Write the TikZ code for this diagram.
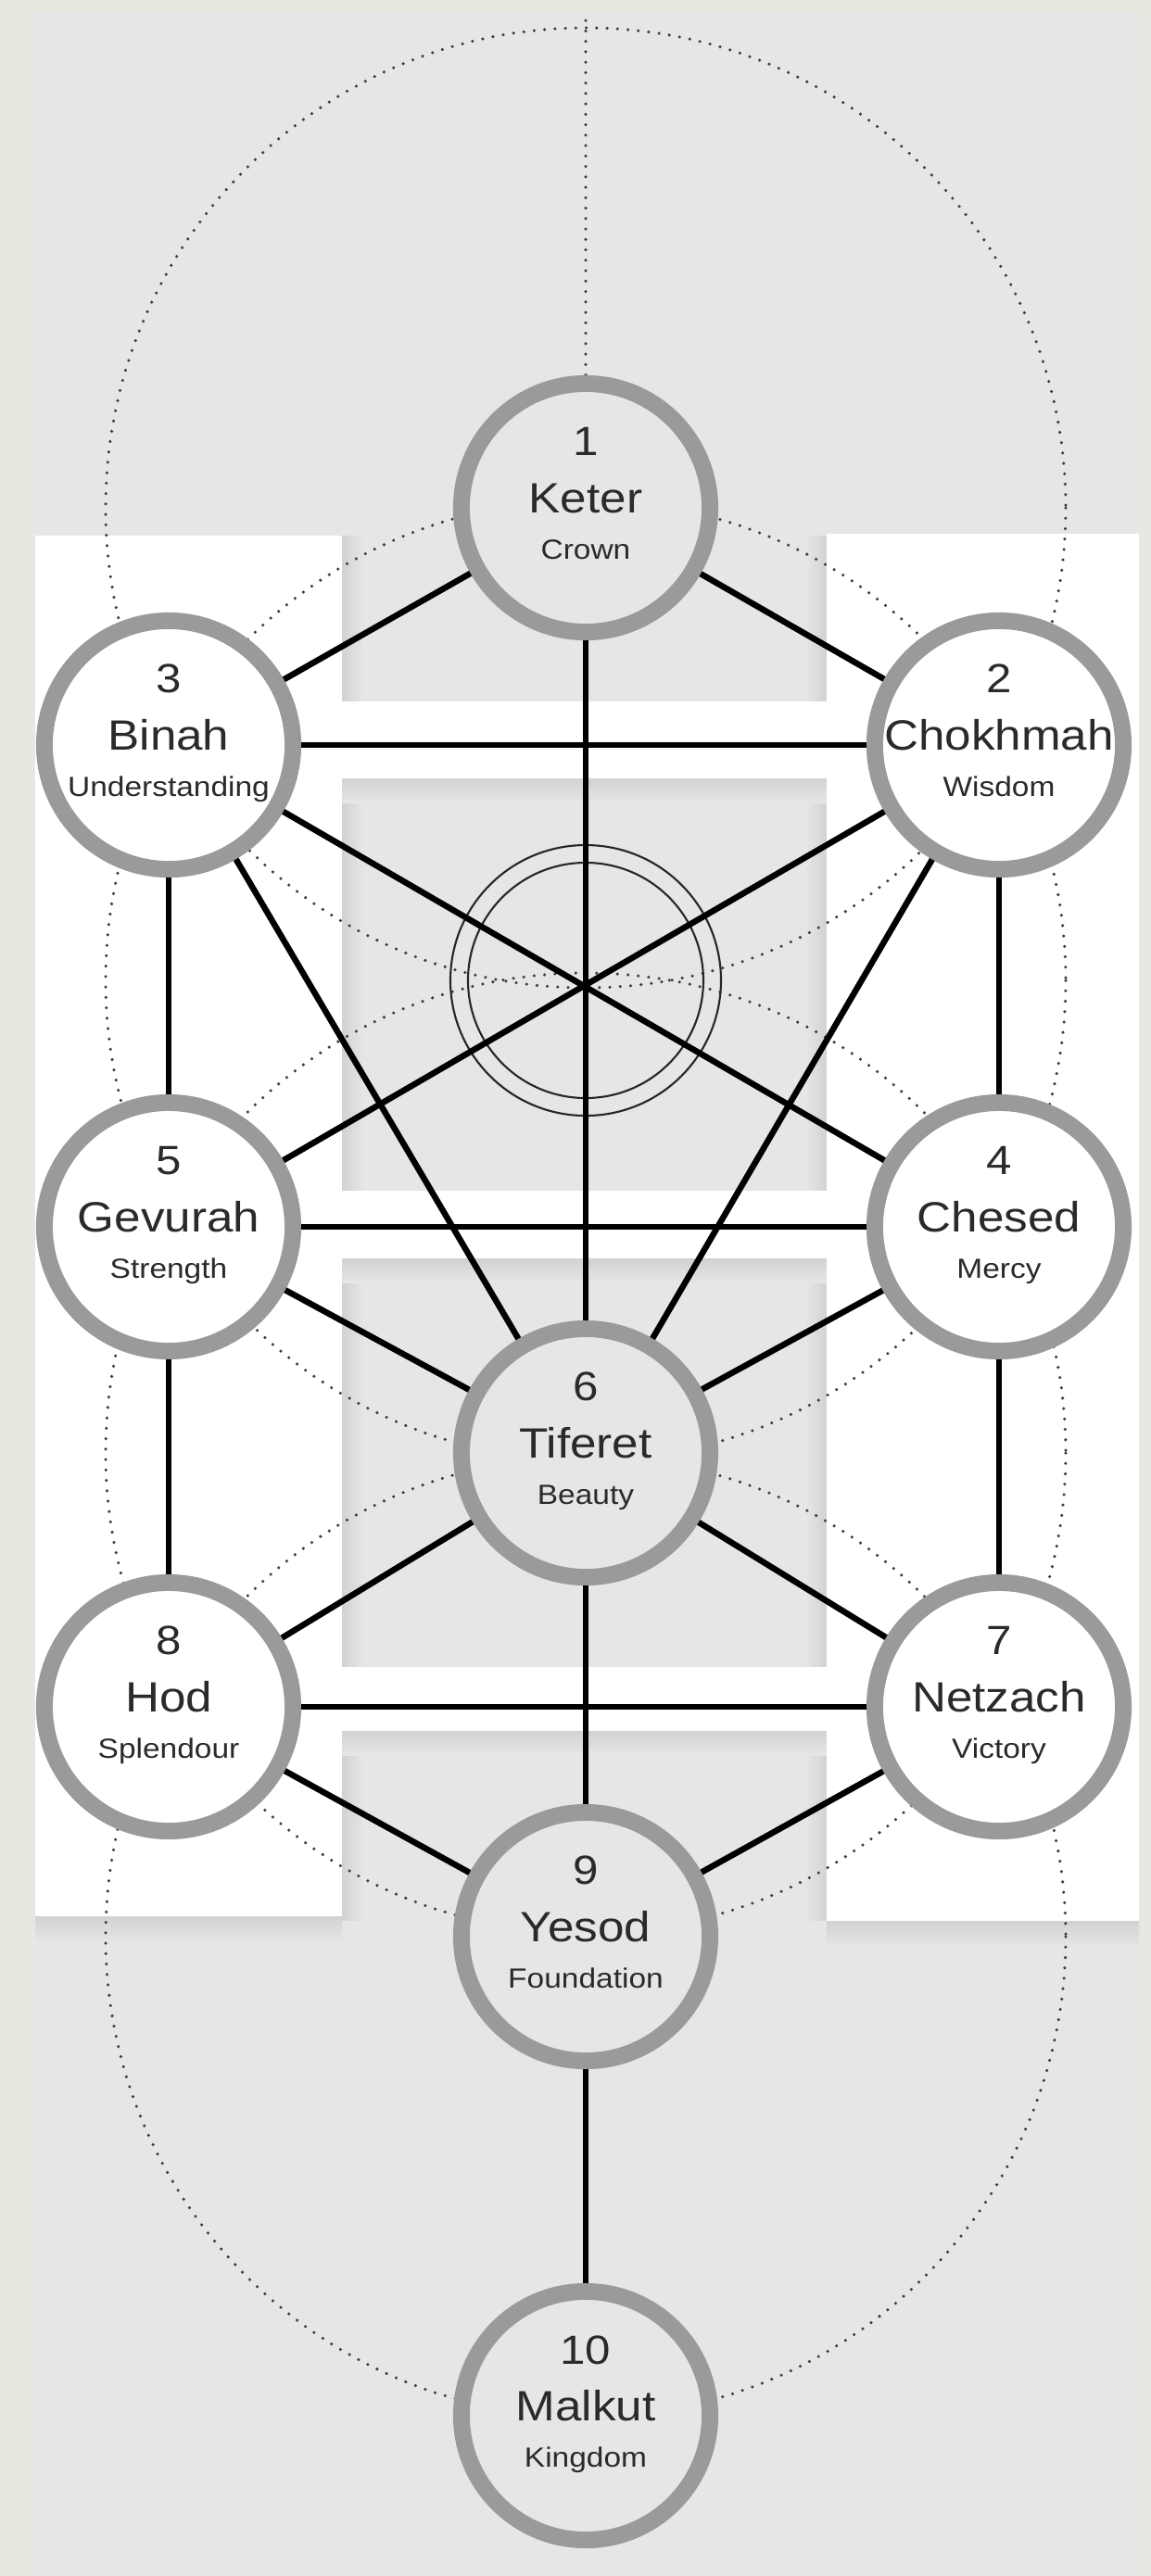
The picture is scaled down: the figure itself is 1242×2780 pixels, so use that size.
\documentclass[tikz,border=0pt]{standalone}
\usepackage{fontspec}
\newfontfamily\sephfont[FakeStretch=1.12]{Liberation Sans}
\usepackage{tikz}
\usetikzlibrary{positioning,backgrounds}
\definecolor{linen}{HTML}{E9E8E0}
\definecolor{panel}{HTML}{E6E6E6}
\definecolor{shadow}{HTML}{D2D2D2}
\definecolor{ring}{HTML}{9A9A9A}
\definecolor{ink}{HTML}{2A2A2A}
\definecolor{dots}{HTML}{3C3C3C}

\begin{document}
\begin{tikzpicture}[
    x=0.01cm, y=-0.01cm,
    seph/.style={circle, draw=ring, line width=0.18cm, minimum size=2.68cm, inner sep=0pt},
    link/.style={line width=0.065cm, black},
    dotline/.style={draw=dots, line width=1pt, dash pattern=on 0pt off 3.2pt, line cap=round},
    numtxt/.style={font=\sephfont\fontsize{12.5}{14}\selectfont, text=ink, anchor=base, inner sep=0pt},
    ttltxt/.style={font=\sephfont\fontsize{13}{15}\selectfont, text=ink, anchor=base, inner sep=0pt},
    subtxt/.style={font=\sephfont\fontsize{8.5}{10}\selectfont, text=ink, anchor=base, inner sep=0pt},
  ]
  \useasboundingbox (0,0) rectangle (1242,2780);

  % the ten sephirot
  \foreach \nm/\px/\py/\num/\ttl/\sub/\bg in {
      keter/632/548/1/Keter/Crown/panel,
      chokhmah/1078/804/2/Chokhmah/Wisdom/white,
      binah/182/804/3/Binah/Understanding/white,
      chesed/1078/1324/4/Chesed/Mercy/white,
      gevurah/182/1324/5/Gevurah/Strength/white,
      tiferet/632/1568/6/Tiferet/Beauty/panel,
      netzach/1078/1842/7/Netzach/Victory/white,
      hod/182/1842/8/Hod/Splendour/white,
      yesod/632/2090/9/Yesod/Foundation/panel,
      malkut/632/2607/10/Malkut/Kingdom/panel} {
    \node[seph, fill=\bg] (\nm) at (\px,\py) {};
    \node[numtxt] (\nm-num) at ([yshift=5.6mm]\nm.center) {\num};
    \node[ttltxt] (\nm-ttl) at ([yshift=-0.5mm]\nm.center) {\ttl};
    \node[subtxt] (\nm-sub) at ([yshift=-5.5mm]\nm.center) {\sub};
  }
  \coordinate (daat) at (632,1058);
  \coordinate (apex) at (632,22);

  \begin{scope}[on background layer]
    % panels
    \fill[linen] (0,0) rectangle (1242,2780);
    \fill[panel] (38,13) rectangle (1229,2780);
    \foreach \ya/\yb in {578/757, 840/1285, 1358/1799, 1868/2072} {
      \shade[left color=shadow, right color=panel] (369,\ya) rectangle (392,\yb);
      \shade[left color=panel, right color=shadow] (869,\ya) rectangle (892,\yb);
    }
    \foreach \ya in {840,1358,1868}
      \shade[top color=shadow, bottom color=panel] (369,\ya) rectangle (892,\ya+26);
    \shade[top color=shadow, bottom color=panel] (38,2068) rectangle (369,2096);
    \shade[top color=shadow, bottom color=panel] (892,2073) rectangle (1229,2101);
    \fill[white] (38,578) rectangle (369,2068);
    \fill[white] (892,576) rectangle (1229,2073);
    \fill[white] (369,757) rectangle (892,840);
    \fill[white] (369,1285) rectangle (892,1358);
    \fill[white] (369,1799) rectangle (892,1868);
    % construction circles
    \foreach \c in {keter,daat,tiferet,yesod}
      \draw[dotline] (\c) circle[radius=518];
    \draw[dotline] (apex) -- (keter);
    \draw[line width=0.6pt, black!85] (daat) circle[radius=146];
    \draw[line width=0.6pt, black!85] (daat) circle[radius=127];
  \end{scope}

  % the 22 paths
  \draw[link] (keter) -- (chokhmah);
  \draw[link] (keter) -- (binah);
  \draw[link] (keter) -- (tiferet);
  \draw[link] (chokhmah) -- (binah);
  \draw[link] (chokhmah) -- (chesed);
  \draw[link] (chokhmah) -- (tiferet);
  \draw[link] (chokhmah) -- (gevurah);
  \draw[link] (binah) -- (gevurah);
  \draw[link] (binah) -- (tiferet);
  \draw[link] (binah) -- (chesed);
  \draw[link] (chesed) -- (gevurah);
  \draw[link] (chesed) -- (tiferet);
  \draw[link] (chesed) -- (netzach);
  \draw[link] (gevurah) -- (tiferet);
  \draw[link] (gevurah) -- (hod);
  \draw[link] (tiferet) -- (netzach);
  \draw[link] (tiferet) -- (hod);
  \draw[link] (tiferet) -- (yesod);
  \draw[link] (netzach) -- (hod);
  \draw[link] (netzach) -- (yesod);
  \draw[link] (hod) -- (yesod);
  \draw[link] (yesod) -- (malkut);
\end{tikzpicture}
\end{document}
